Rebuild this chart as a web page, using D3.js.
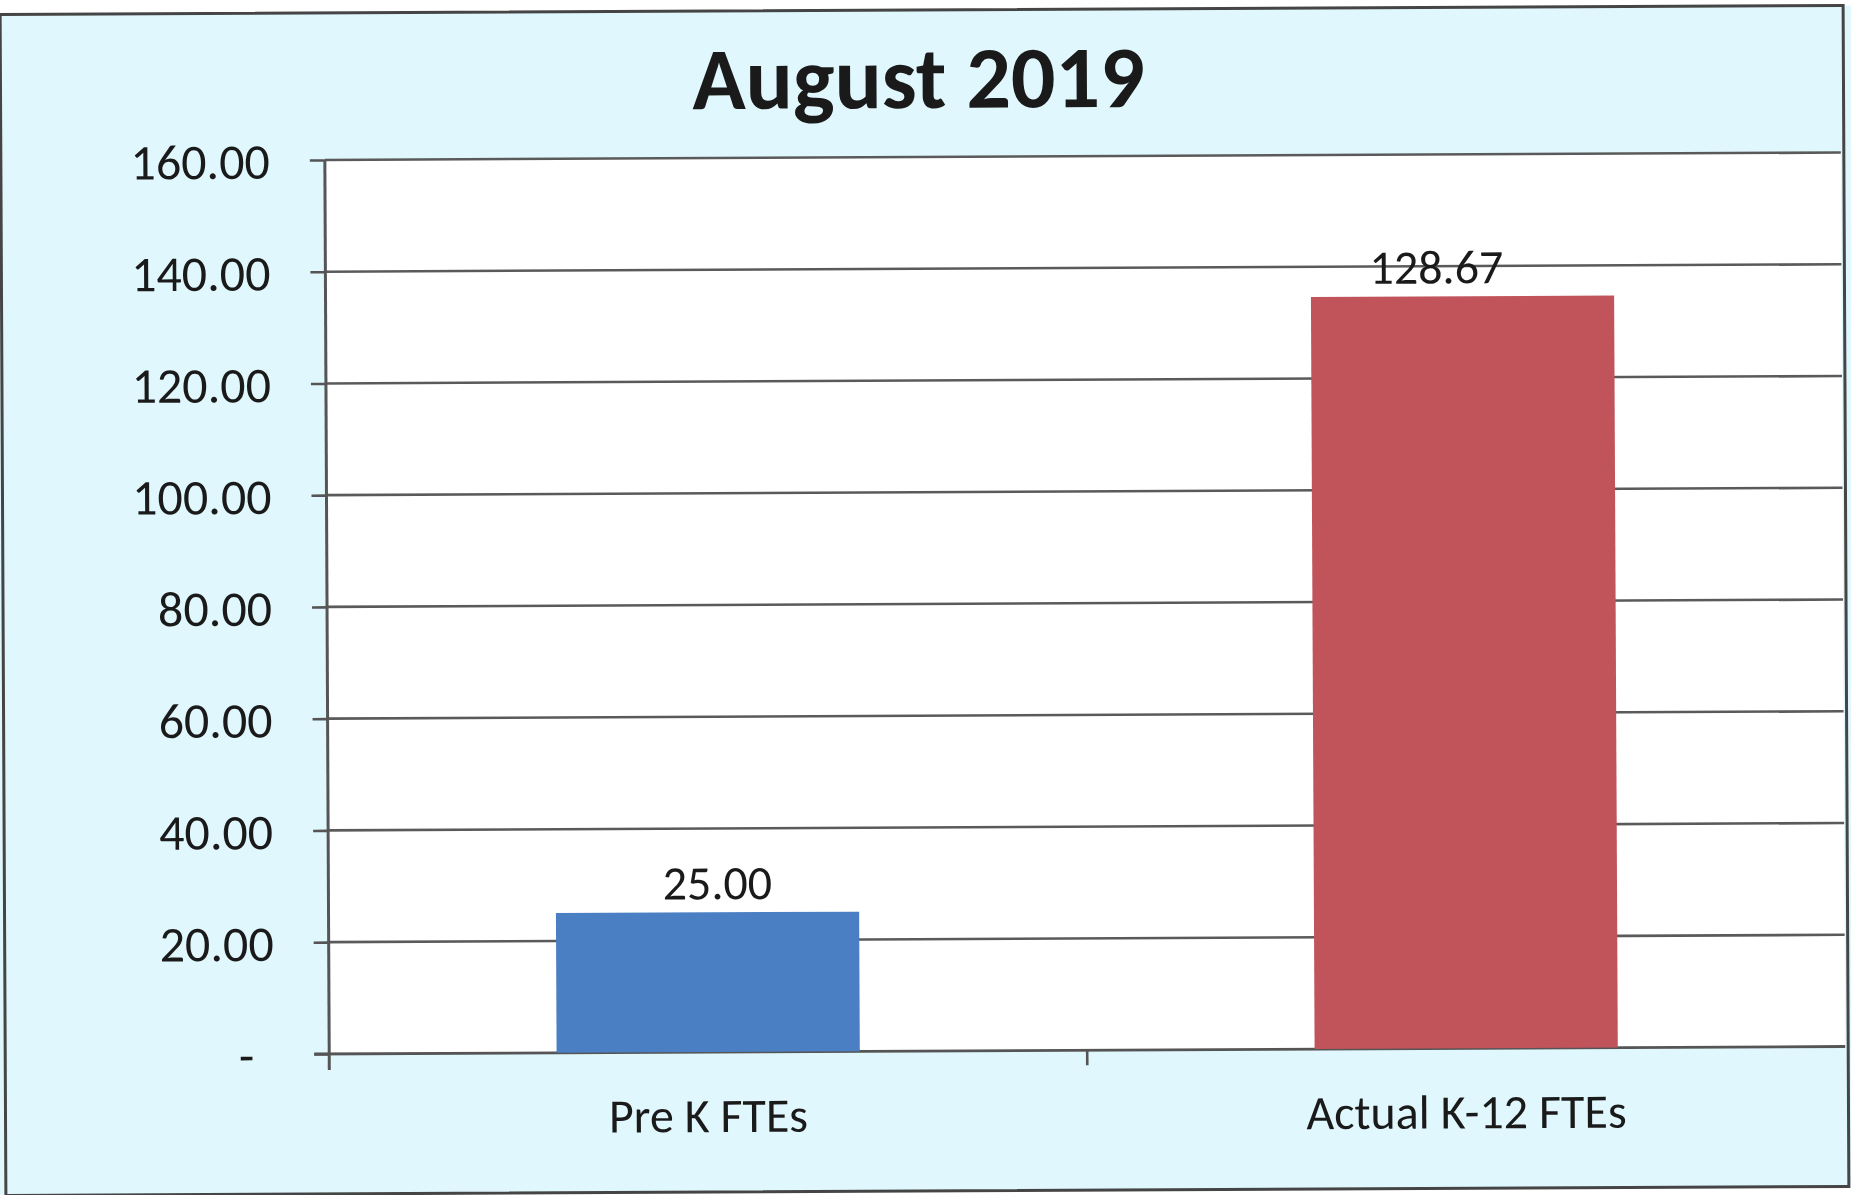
<!DOCTYPE html>
<html>
<head>
<meta charset="utf-8">
<script src="https://cdn.jsdelivr.net/npm/d3@7"></script>
<style>
  html, body { margin: 0; padding: 0; background: #ffffff; }
  svg { display: block; }
  text { font-family: Carlito, Lato, "Open Sans", sans-serif; fill: #1a1a1a; }
</style>
</head>
<body>
<svg id="chart" width="1851" height="1195"></svg>
<script>
// ---- data ----
const title = "August 2019";
const categories = ["Pre K FTEs", "Actual K-12 FTEs"];
const barHeights = [25.0, 134.6];          // bar heights as drawn in the picture
const valueLabels = ["25.00", "128.67"];    // data labels printed above bars
const barColors = ["#4a7fc3", "#c1535b"];
const yTicks = [0, 20, 40, 60, 80, 100, 120, 140, 160];
const yTickLabels = ["-", "20.00", "40.00", "60.00", "80.00", "100.00", "120.00", "140.00", "160.00"];
const labelDx = [10, -26];

// ---- layout ----
const W = 1851, H = 1195;
const plot = { left: 327, right: 1843, top: 157, bottom: 1051 };

const svg = d3.select("#chart");
const root = svg.append("g").attr("transform", "rotate(-0.28, 925, 600)");

// outer chart background + border
root.append("rect")
  .attr("x", -20).attr("y", 10).attr("width", 1868 + 20).attr("height", 1181)
  .attr("fill", "#e0f8fd");
root.append("rect")
  .attr("x", 3).attr("y", 10).attr("width", 1843).attr("height", 1181)
  .attr("fill", "none").attr("stroke", "#454545").attr("stroke-width", 3);

const y = d3.scaleLinear().domain([0, 160]).range([plot.bottom, plot.top]);
const x = d3.scaleBand().domain(categories).range([plot.left, plot.right])
  .paddingInner(0.6).paddingOuter(0.3);
const xEdges = d3.scaleBand().domain(categories).range([plot.left, plot.right]).padding(0);

// plot area
root.append("rect")
  .attr("x", plot.left).attr("y", plot.top)
  .attr("width", plot.right - plot.left).attr("height", plot.bottom - plot.top)
  .attr("fill", "#ffffff");

// gridlines
root.append("g").selectAll("line").data(yTicks.filter(d => d > 0)).join("line")
  .attr("x1", plot.left).attr("x2", plot.right)
  .attr("y1", d => y(d)).attr("y2", d => y(d))
  .attr("stroke", "#5a5a5a").attr("stroke-width", 2.6);

// y axis
const yAxis = d3.axisLeft(y).tickValues(yTicks)
  .tickFormat((d, i) => yTickLabels[i]).tickSize(15).tickPadding(40);
const gy = root.append("g").attr("transform", `translate(${plot.left},0)`).call(yAxis);
gy.select(".domain").remove();
gy.selectAll(".tick line").attr("stroke", "#555").attr("stroke-width", 2.6);
gy.selectAll(".tick text")
  .style("font-size", "50px").attr("fill", "#1a1a1a")
  .attr("x", (d) => d === 0 ? -75 : -55).attr("dy", "0.36em");
root.append("line")
  .attr("x1", plot.left).attr("x2", plot.left)
  .attr("y1", plot.top).attr("y2", plot.bottom + 16)
  .attr("stroke", "#555").attr("stroke-width", 3);

// x axis baseline & ticks at category boundaries
root.append("line")
  .attr("x1", plot.left - 15).attr("x2", plot.right)
  .attr("y1", plot.bottom).attr("y2", plot.bottom)
  .attr("stroke", "#555").attr("stroke-width", 2.8);
const edges = categories.map(c => xEdges(c)).concat([plot.right]);
root.append("g").selectAll("line").data(edges.slice(1, -1)).join("line")
  .attr("x1", d => d).attr("x2", d => d)
  .attr("y1", plot.bottom).attr("y2", plot.bottom + 15)
  .attr("stroke", "#555").attr("stroke-width", 2.6);

// bars
root.append("g").selectAll("rect").data(categories).join("rect")
  .attr("x", d => x(d))
  .attr("y", (d, i) => y(barHeights[i]))
  .attr("width", x.bandwidth())
  .attr("height", (d, i) => y(0) - y(barHeights[i]))
  .attr("fill", (d, i) => barColors[i]);

// value labels
root.append("g").selectAll("text").data(categories).join("text")
  .attr("x", (d, i) => x(d) + x.bandwidth() / 2 + labelDx[i])
  .attr("y", (d, i) => y(barHeights[i]) - 13)
  .attr("text-anchor", "middle")
  .style("font-size", "48px")
  .text((d, i) => valueLabels[i]);

// category labels
root.append("g").selectAll("text").data(categories).join("text")
  .attr("x", d => x(d) + x.bandwidth() / 2)
  .attr("y", plot.bottom + 80)
  .attr("text-anchor", "middle")
  .style("font-size", "48px")
  .text(d => d);

// title
root.append("text")
  .attr("x", 921).attr("y", 108)
  .attr("text-anchor", "middle")
  .style("font-size", "88px").style("font-weight", "bold")
  .text(title);
</script>
</body>
</html>
